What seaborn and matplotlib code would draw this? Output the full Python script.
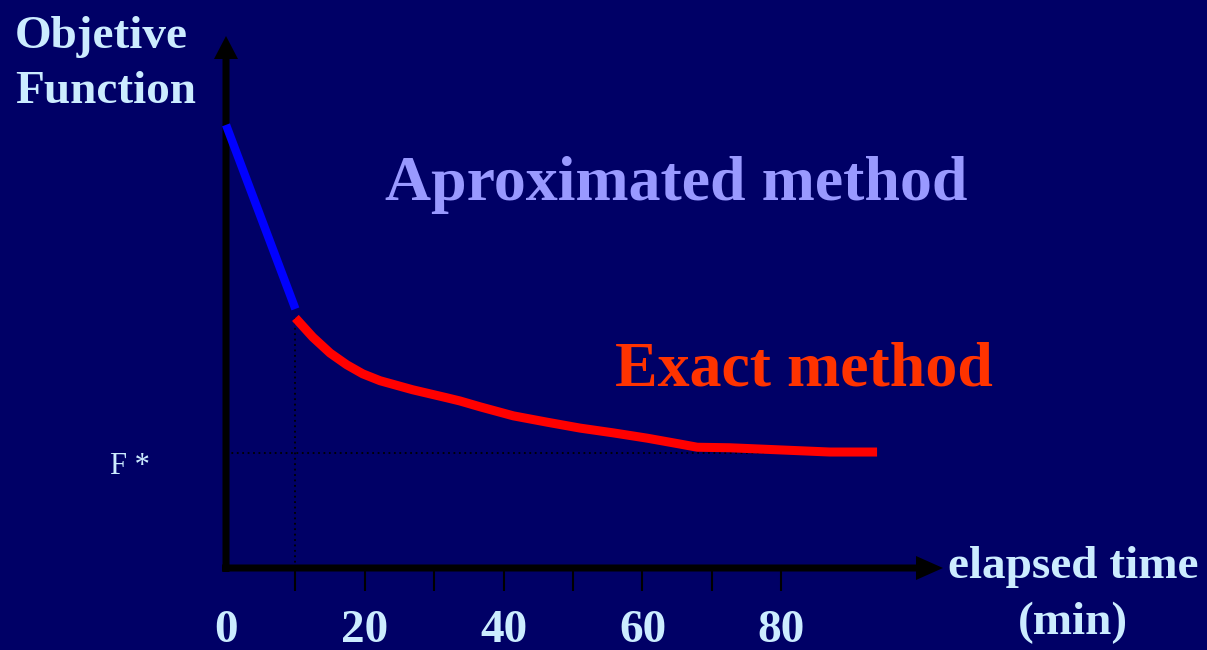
import matplotlib
matplotlib.use("Agg")
import matplotlib.pyplot as plt
import numpy as np
import pandas as pd
import seaborn as sns

# ---- data -------------------------------------------------------------
approx_time = [0.0, 10.0]
approx_obj = [83.3, 48.7]

exact_time = [10.0, 12.5, 15.0, 17.4, 19.7, 22.2, 26.9, 31.8, 33.7, 36.6, 41.4,
              46.3, 51.0, 55.8, 60.7, 65.4, 67.9, 72.6, 79.8, 87.0, 93.8]
exact_obj = [47.0, 43.4, 40.4, 38.2, 36.5, 35.2, 33.5, 32.0, 31.4, 30.3, 28.6,
             27.4, 26.3, 25.4, 24.4, 23.3, 22.7, 22.6, 22.2, 21.8, 21.8]

f_star = 21.6

tick_minor = [10, 20, 30, 40, 50, 60, 70, 80]
tick_major = [0, 20, 40, 60, 80]
tick_labels = ["0", "20", "40", "60", "80"]

# ---- style ------------------------------------------------------------
BG = "#000066"
PALE = "#CCECFF"
W, H, DPI = 1207, 650, 100

sns.set_theme(style="white", rc={
    "figure.facecolor": BG,
    "axes.facecolor": BG,
    "savefig.facecolor": BG,
})
plt.rcParams["font.family"] = ["Liberation Serif", "DejaVu Serif"]

fig = plt.figure(figsize=(W / DPI, H / DPI), dpi=DPI)

# plot area: origin of the axes arrows at (226, 568) px, arrow tips at y=36 / x=943
x0, y0, x1, y1 = 226, 568, 943, 36
ax = fig.add_axes([x0 / W, (H - y0) / H, (x1 - x0) / W, (y0 - y1) / H])
ax.set_xlim(0, 103.3)
ax.set_ylim(0, 100)
for s in ax.spines.values():
    s.set_visible(False)
ax.patch.set_alpha(0)

# pixel-per-unit factors for the arrow geometry
px_x = (x1 - x0) / 103.3
px_y = (y0 - y1) / 100.0

# axis arrows
ax.arrow(0, -4 / px_y, 0, 100 + 4 / px_y, width=7 / px_x, head_width=24 / px_x,
         head_length=23 / px_y, length_includes_head=True, color="black",
         lw=0, clip_on=False, zorder=2.6)
ax.arrow(-4 / px_x, 0, 103.3 + 4 / px_x, 0, width=7 / px_y, head_width=24 / px_y,
         head_length=27 / px_x, length_includes_head=True, color="black",
         lw=0, clip_on=False, zorder=2.6)

# ticks
ax.set_yticks([])
ax.set_xticks(tick_major)
ax.set_xticklabels(tick_labels)
ax.set_xticks(tick_minor, minor=True)
ax.xaxis.remove_overlapping_locs = False
ax.tick_params(axis="x", which="major", length=0, pad=30, labelsize=34,
               labelcolor=PALE)
ax.tick_params(axis="x", which="minor", length=23 * 72 / DPI, width=1.5,
               color="black", direction="out", bottom=True)
for lbl in ax.get_xticklabels():
    lbl.set_fontweight("bold")

# reference lines for the optimum
ax.hlines(f_star, 0, exact_time[-1], colors="black", linestyles=(0, (1, 2)),
          lw=1.3, zorder=2)
ax.vlines(exact_time[0], 0, exact_obj[0], colors="black", linestyles=(0, (1, 2)),
          lw=1.3, zorder=2)

# curves
df_a = pd.DataFrame({"time": approx_time, "obj": approx_obj})
df_e = pd.DataFrame({"time": exact_time, "obj": exact_obj})
sns.lineplot(data=df_a, x="time", y="obj", ax=ax, color="#0000FF", lw=6,
             sort=False, zorder=3, clip_on=False, solid_capstyle="butt")
sns.lineplot(data=df_e, x="time", y="obj", ax=ax, color="#FF0000", lw=6.5,
             sort=False, zorder=3, clip_on=False, solid_capstyle="butt")
ax.set_xlabel("")
ax.set_ylabel("")

# labels
def fx(px):
    return px / W

def fy(py):
    return 1 - py / H

fig.text(fx(15), fy(103), "Objetive\nFunction", fontsize=34, fontweight="bold",
         color=PALE, ha="left", va="baseline", linespacing=1.42)
fig.text(fx(1073), fy(634), "elapsed time\n(min)", fontsize=34, fontweight="bold",
         color=PALE, ha="center", va="baseline", linespacing=1.42)
fig.text(fx(110), fy(474), "F *", fontsize=22, color=PALE, ha="left",
         va="baseline")
fig.text(fx(385), fy(200), "Aproximated method", fontsize=46, fontweight="bold",
         color="#9999FF", ha="left", va="baseline")
fig.text(fx(615), fy(385), "Exact method", fontsize=46, fontweight="bold",
         color="#FF3300", ha="left", va="baseline")

fig.savefig("out.png", dpi=DPI, facecolor=BG)
